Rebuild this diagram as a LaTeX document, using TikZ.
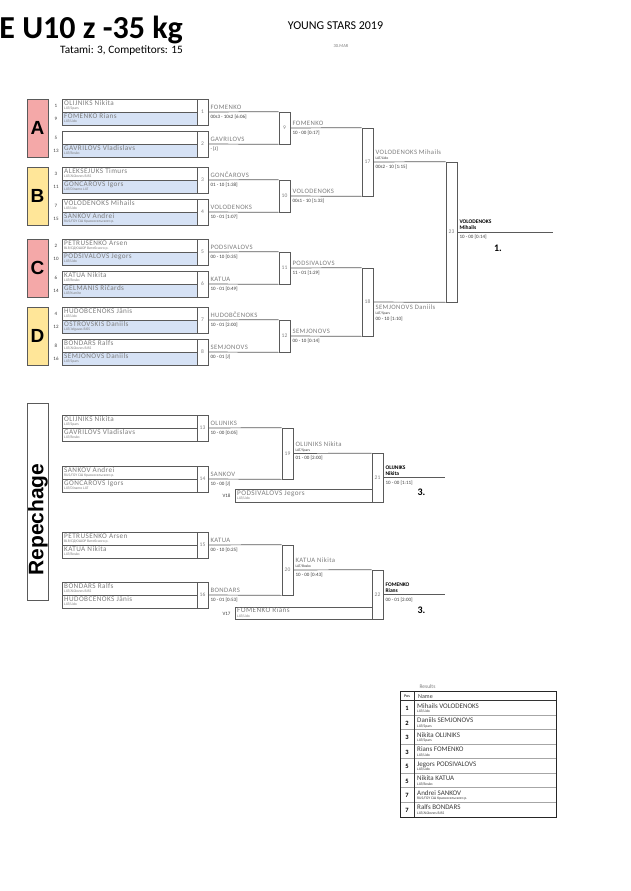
\documentclass[tikz,border=0pt]{standalone}
\usepackage{fontspec}
\setmainfont{Carlito}
\newfontfamily\arialf{Liberation Sans}
\newfontfamily\spacedf{Carlito}[LetterSpace=6]
\definecolor{linecol}{RGB}{90,90,90}
\definecolor{poolpink}{RGB}{244,168,168}
\definecolor{poolyel}{RGB}{255,230,153}
\definecolor{rowblue}{RGB}{214,226,245}
\definecolor{namecol}{RGB}{125,125,125}
\definecolor{scorecol}{RGB}{60,60,60}
\newcommand\CRow[6]{% id, ytop, fill, seed, name, club
  \node[rowbox, fill=#3] (#1) at (62,#2) {};
  \node[seednum] (#1s) at (56,#2+7) {#4};
  \node[pname] (#1n) at (64,#2+6.2) {#5};
  \node[pclub] (#1c) at (64,#2+10.5) {#6};
}
\newcommand\MBox[5]{% id, cx, cy, h, label
  \node[mbox, minimum height=#4pt] (#1) at (#2,#3) {#5};
}
\newcommand\WLab[3]{% match, name, score
  \node[wname] (#1w) at ([xshift=2pt,yshift=3pt]#1.east) {#2};
  \node[wscore] (#1sc) at ([xshift=2pt,yshift=-2.5pt]#1.east) {#3};
}
\newcommand\WLabClub[4]{% match, name, club, score (above line)
  \node[wname] (#1w) at ([xshift=2pt,yshift=7.5pt]#1.east) {#2};
  \node[pclub, text=scorecol] (#1cl) at ([xshift=2pt,yshift=2.2pt]#1.east) {#3};
  \node[wscore] (#1sc) at ([xshift=2pt,yshift=-2.5pt]#1.east) {#4};
}
\newcommand\WLabBold[4]{% match, line1, line2, score
  \node[wbold] (#1w) at ([xshift=2pt,yshift=8.5pt]#1.east) {#2};
  \node[wbold] (#1w2) at ([xshift=2pt,yshift=2.2pt]#1.east) {#3};
  \node[wscore] (#1sc) at ([xshift=2pt,yshift=-2.5pt]#1.east) {#4};
}
\newcommand\ResRow[5]{% id, ytop, pos, name, club
  \node[respos] (#1p) at (407,#2+8) {#3};
  \node[resname] (#1n) at (417,#2+7.5) {#4};
  \node[pclub, text=scorecol] (#1c) at (417,#2+12) {#5};
}
\begin{document}
\begin{tikzpicture}[x=1pt,y=-1pt,
  rowbox/.style={draw=linecol, line width=0.7pt, minimum width=135pt, minimum height=13pt, inner sep=0pt, anchor=north west},
  mbox/.style={draw=linecol, line width=0.7pt, minimum width=11pt, inner sep=0pt, font=\fontsize{5.5}{6}\selectfont, text=namecol},
  poolbox/.style={draw=linecol, line width=0.7pt, minimum width=21pt, minimum height=58pt, inner sep=0pt, font=\arialf\bfseries\fontsize{19}{19}\selectfont},
  vbox/.style={draw=linecol, line width=0.7pt, minimum width=137pt, minimum height=12.5pt, inner sep=0pt},
  seednum/.style={font=\fontsize{5}{6}\selectfont, inner sep=0pt, text=scorecol},
  pname/.style={font=\spacedf\fontsize{7.2}{8}\selectfont, text=namecol, inner sep=0pt, anchor=base west},
  pclub/.style={font=\fontsize{3.7}{4}\selectfont, text=namecol, inner sep=0pt, anchor=base west},
  wname/.style={font=\spacedf\fontsize{6.7}{7}\selectfont, text=namecol, inner sep=0pt, anchor=base west},
  wscore/.style={font=\fontsize{5}{6}\selectfont, text=scorecol, inner sep=0pt, anchor=north west},
  wbold/.style={font=\fontsize{5.5}{6}\selectfont\bfseries, text=black, inner sep=0pt, anchor=base west},
  link/.style={draw=linecol, line width=0.7pt},
  place/.style={font=\fontsize{10}{10}\selectfont\bfseries, inner sep=0pt},
  respos/.style={font=\fontsize{6.5}{7}\selectfont\bfseries, inner sep=0pt},
  resname/.style={font=\fontsize{7}{8}\selectfont, text=scorecol, inner sep=0pt, anchor=base west},
]
\useasboundingbox[fill=white] (0,0) rectangle (630,891);

% header
\node[font=\fontsize{32}{32}\selectfont\bfseries, anchor=base east, inner sep=0pt] (title) at (183,39) {E U10 z -35 kg};
\node[font=\fontsize{11.3}{12}\selectfont, anchor=base east, inner sep=0pt] (subtitle) at (183,54) {Tatami: 3, Competitors: 15};
\node[font=\fontsize{12}{12}\selectfont, anchor=base, inner sep=0pt] (event) at (335.5,29.5) {YOUNG STARS 2019};
\node[font=\fontsize{4.5}{5}\selectfont, text=namecol, inner sep=0pt] (date) at (341,46) {30.MAR};

% pools
\node[poolbox, fill=poolpink] (pA) at (37.5,128) {A};
\node[poolbox, fill=poolyel] (pB) at (37.5,196) {B};
\node[poolbox, fill=poolpink] (pC) at (37.5,268) {C};
\node[poolbox, fill=poolyel] (pD) at (37.5,336) {D};

\CRow{a1}{99}{white}{1}{OLIJNIKS Nikita}{LAT/Spars}
\CRow{a9}{112}{rowblue}{9}{FOMENKO Rians}{LAT/Lido}
\CRow{a5}{131}{white}{5}{}{}
\CRow{a13}{144}{rowblue}{13}{GAVRILOVS Vladislavs}{LAT/Bosko}

\CRow{b3}{167}{white}{3}{ALEKSEJUKS Timurs}{LAT/Alūksnes BJSS}
\CRow{b11}{180}{rowblue}{11}{GONČAROVS Igors}{LAT/Dinamo LAT}
\CRow{b7}{199}{white}{7}{VOLODENOKS Mihails}{LAT/Lido}
\CRow{b15}{212}{rowblue}{15}{SANKOV Andrei}{RUS/ГБУ СШ Красносельского р.}

\CRow{c2}{239}{white}{2}{PETRUSENKO Arsen}{BLR/СДЮШОР Витебского р.}
\CRow{c10}{252}{rowblue}{10}{PODSIVALOVS Jegors}{LAT/Lido}
\CRow{c6}{271}{white}{6}{KATUA Nikita}{LAT/Bosko}
\CRow{c14}{284}{rowblue}{14}{GELMANIS Ričards}{LAT/Kumite}

\CRow{d4}{307}{white}{4}{HUDOBČENOKS Jānis}{LAT/Lido}
\CRow{d12}{320}{rowblue}{12}{OSTROVSKIS Daniils}{LAT/Jelgavas BJSS}
\CRow{d8}{339}{white}{8}{BONDARS Ralfs}{LAT/Alūksnes BJSS}
\CRow{d16}{352}{rowblue}{16}{SEMJONOVS Daniils}{LAT/Spars}

% main bracket match boxes
\MBox{m1}{202.5}{112}{26}{1}
\MBox{m2}{202.5}{144}{26}{2}
\MBox{m3}{202.5}{180}{26}{3}
\MBox{m4}{202.5}{212}{26}{4}
\MBox{m5}{202.5}{252}{26}{5}
\MBox{m6}{202.5}{284}{26}{6}
\MBox{m7}{202.5}{320}{26}{7}
\MBox{m8}{202.5}{352}{26}{8}
\MBox{m9}{284.5}{128}{32}{9}
\MBox{m10}{284.5}{196}{32}{10}
\MBox{m11}{284.5}{268}{32}{11}
\MBox{m12}{284.5}{336}{32}{12}
\MBox{m17}{367.5}{162}{68}{17}
\MBox{m18}{367.5}{302}{68}{18}
\MBox{m23}{451.5}{232}{140}{23}
\coordinate (fin) at (553,232);

\draw[link] (m1.east) -- (m9.north west);
\draw[link] (m2.east) -- (m9.south west);
\draw[link] (m3.east) -- (m10.north west);
\draw[link] (m4.east) -- (m10.south west);
\draw[link] (m5.east) -- (m11.north west);
\draw[link] (m6.east) -- (m11.south west);
\draw[link] (m7.east) -- (m12.north west);
\draw[link] (m8.east) -- (m12.south west);
\draw[link] (m9.east) -- (m17.north west);
\draw[link] (m10.east) -- (m17.south west);
\draw[link] (m11.east) -- (m18.north west);
\draw[link] (m12.east) -- (m18.south west);
\draw[link] (m17.east) -- (m23.north west);
\draw[link] (m18.east) -- (m23.south west);
\draw[link] (m23.east) -- (fin);

\WLab{m1}{FOMENKO}{00s3 - 10s2 [6:06]}
\WLab{m2}{GAVRILOVS}{- [J]}
\WLab{m3}{GONČAROVS}{01 - 10 [1:38]}
\WLab{m4}{VOLODENOKS}{10 - 01 [1:07]}
\WLab{m5}{PODSIVALOVS}{00 - 10 [0:35]}
\WLab{m6}{KATUA}{10 - 01 [0:49]}
\WLab{m7}{HUDOBČENOKS}{10 - 01 [2:00]}
\WLab{m8}{SEMJONOVS}{00 - 01 [J]}
\WLab{m9}{FOMENKO}{10 - 00 [0:17]}
\WLab{m10}{VOLODENOKS}{00s1 - 10 [1:33]}
\WLab{m11}{PODSIVALOVS}{11 - 01 [1:29]}
\WLab{m12}{SEMJONOVS}{00 - 10 [0:14]}
\WLabClub{m17}{VOLODENOKS Mihails}{LAT/Lido}{00s2 - 10 [1:15]}
\node[wname] (m18w) at ([xshift=2pt,yshift=-7pt]m18.east) {SEMJONOVS Daniils};
\node[pclub, text=scorecol] (m18cl) at ([xshift=2pt,yshift=-12pt]m18.east) {LAT/Spars};
\node[wscore] (m18sc) at ([xshift=2pt,yshift=-15pt]m18.east) {00 - 10 [1:10]};
\WLabBold{m23}{VOLODENOKS}{Mihails}{10 - 00 [0:14]}
\node[place] (first) at (498,248) {1.};

% repechage
\draw[linecol, line width=0.7pt] (27,403) rectangle (48,600);
\node[rotate=90, font=\arialf\bfseries\fontsize{21}{21}\selectfont, inner sep=0pt] (rep) at (38,519.5) {Repechage};

\CRow{r13a}{415}{white}{}{OLIJNIKS Nikita}{LAT/Spars}
\CRow{r13b}{428}{white}{}{GAVRILOVS Vladislavs}{LAT/Bosko}
\CRow{r14a}{466}{white}{}{SANKOV Andrei}{RUS/ГБУ СШ Красносельского р.}
\CRow{r14b}{479}{white}{}{GONČAROVS Igors}{LAT/Dinamo LAT}
\CRow{r15a}{532}{white}{}{PETRUSENKO Arsen}{BLR/СДЮШОР Витебского р.}
\CRow{r15b}{545}{white}{}{KATUA Nikita}{LAT/Bosko}
\CRow{r16a}{582}{white}{}{BONDARS Ralfs}{LAT/Alūksnes BJSS}
\CRow{r16b}{595}{white}{}{HUDOBČENOKS Jānis}{LAT/Lido}

\MBox{m13}{202.5}{428}{26}{13}
\MBox{m14}{202.5}{479}{26}{14}
\MBox{m15}{202.5}{545}{26}{15}
\MBox{m16}{202.5}{595}{26}{16}
\MBox{m19}{287.5}{453.5}{51}{19}
\MBox{m20}{287.5}{570}{50}{20}
\MBox{m21}{377.5}{477.75}{48.5}{21}
\MBox{m22}{377.5}{594.75}{49.5}{22}
\node[vbox] (v18) at (303.5,495.75) {};
\node[vbox] (v17) at (303.5,613.25) {};
\node[seednum] (v18l) at (226.5,495.5) {V18};
\node[seednum] (v17l) at (226.5,613.5) {V17};
\node[pname] (v18n) at (237,495.3) {PODSIVALOVS Jegors};
\node[pclub] (v18c) at (237,499.8) {LAT/Lido};
\node[pname] (v17n) at (237,612.8) {FOMENKO Rians};
\node[pclub] (v17c) at (237,617.3) {LAT/Lido};
\coordinate (r1end) at (445,477.75);
\coordinate (r2end) at (445,594.75);

\draw[link] (m13.east) -- (m19.north west);
\draw[link] (m14.east) -- (m19.south west);
\draw[link] (m19.east) -- (m21.north west);
\draw[link] (m21.east) -- (r1end);
\draw[link] (m15.east) -- (m20.north west);
\draw[link] (m16.east) -- (m20.south west);
\draw[link] (m20.east) -- (m22.north west);
\draw[link] (m22.east) -- (r2end);

\WLab{m13}{OLIJNIKS}{10 - 00 [0:05]}
\WLab{m14}{SANKOV}{10 - 00 [J]}
\WLab{m15}{KATUA}{00 - 10 [0:25]}
\WLab{m16}{BONDARS}{10 - 01 [0:53]}
\WLabClub{m19}{OLIJNIKS Nikita}{LAT/Spars}{01 - 00 [2:00]}
\WLabClub{m20}{KATUA Nikita}{LAT/Bosko}{10 - 00 [0:43]}
\WLabBold{m21}{OLIJNIKS}{Nikita}{10 - 00 [1:11]}
\WLabBold{m22}{FOMENKO}{Rians}{00 - 01 [2:00]}
\node[place] (third1) at (421.5,492) {3.};
\node[place] (third2) at (421.5,610) {3.};

% results
\node[font=\fontsize{5.5}{6}\selectfont, text=namecol, inner sep=0pt] (restitle) at (427.5,687) {Results};
\foreach \i in {1,...,7} {
  \draw[gray!70, line width=0.7pt] (400,700.5+14.5*\i) -- (556.5,700.5+14.5*\i);
}
\draw[black!80, line width=0.6pt] (400,700.5) -- (556.5,700.5);
\draw[black!80, line width=0.6pt] (414,691.5) -- (414,817);
\draw[black!85, line width=0.8pt] (400,691.5) rectangle (556.5,817);
\node[font=\fontsize{4}{4}\selectfont, inner sep=0pt] (hpos) at (407,696.3) {Pos};
\node[font=\fontsize{6}{6}\selectfont, anchor=base west, inner sep=0pt, text=scorecol] (hname) at (418,698.5) {Name};
\ResRow{q1}{700.5}{1}{Mihails VOLODENOKS}{LAT/Lido}
\ResRow{q2}{715}{2}{Daniils SEMJONOVS}{LAT/Spars}
\ResRow{q3}{729.5}{3}{Nikita OLIJNIKS}{LAT/Spars}
\ResRow{q4}{744}{3}{Rians FOMENKO}{LAT/Lido}
\ResRow{q5}{758.5}{5}{Jegors PODSIVALOVS}{LAT/Lido}
\ResRow{q6}{773}{5}{Nikita KATUA}{LAT/Bosko}
\ResRow{q7}{787.5}{7}{Andrei SANKOV}{RUS/ГБУ СШ Красносельского р.}
\ResRow{q8}{802}{7}{Ralfs BONDARS}{LAT/Alūksnes BJSS}
\end{tikzpicture}
\end{document}
